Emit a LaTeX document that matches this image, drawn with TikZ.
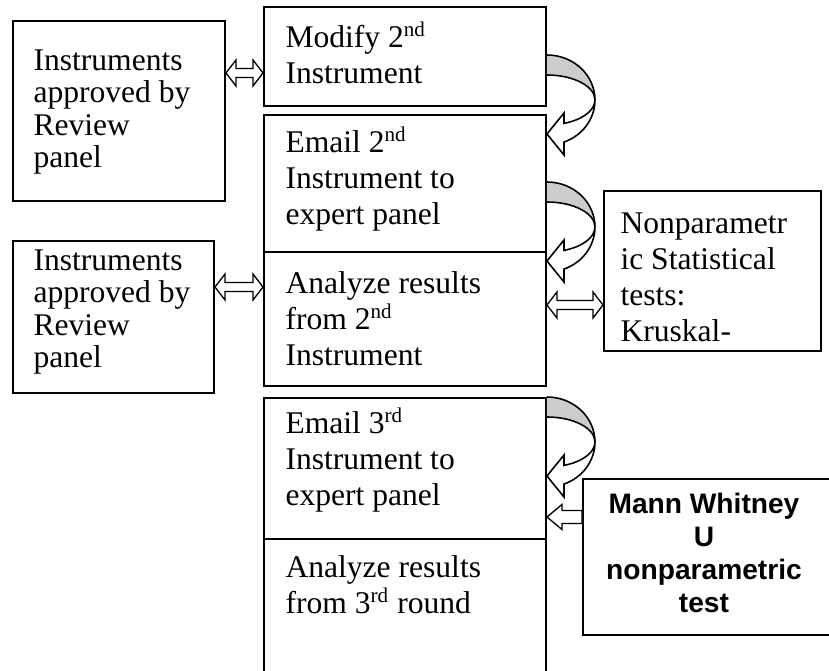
\documentclass[tikz,border=0pt]{standalone}
\usepackage{fontspec}
\setmainfont{Liberation Serif}
\newfontfamily\arialfont{Liberation Sans}
\usetikzlibrary{calc}
\newlength\px
\setlength\px{0.38pt}
\definecolor{bandgray}{gray}{0.8}
\newcommand{\topstrut}{\rule{0pt}{11pt}}
\newcommand{\dblarrow}[2]{%
  \draw[blk] (#1) -- ++(10,-13) -- ++(0,8.5) -- ($(#2)+(-10,-4.5)$) -- ++(0,-8.5)
    -- (#2) -- ++(-10,13) -- ++(0,-8.5) -- ($(#1)+(10,4.5)$) -- ++(0,8.5) -- cycle;}
\newcommand{\blkarrow}[2]{%
  \draw[blk] (#2) -- ++(15,-12.5) -- ++(0,6) -- ($(#1)+(0,-6.5)$) -- ++(0,13)
    -- ($(#2)+(15,6.5)$) -- ++(0,6) -- cycle;}

\begin{document}
\begin{tikzpicture}[x=0.38pt, y=-0.38pt,
    box/.style={draw, line width=0.75pt, rectangle, inner sep=0pt, anchor=north west},
    txt/.style={font=\fontsize{12}{13.7}\selectfont, align=left, inner sep=0pt,
        anchor=north west},
    tight txt/.style={txt, font=\fontsize{12}{12.3}\selectfont},
    bold txt/.style={font=\arialfont\bfseries\fontsize{10.7}{12.5}\selectfont,
        align=center, inner sep=0pt, anchor=north},
    blk/.style={draw, line width=0.5pt, fill=white, line join=miter},
    curvedback/.pic={
        \fill[bandgray] (0,0) .. controls (26.5,0) and (48,20.1) .. (48,45)
            .. controls (48,31.2) and (26.5,20) .. (0,20) -- cycle;
        \draw[line width=0.6pt] (0,0) .. controls (26.5,0) and (48,20.1) .. (48,45);
        \draw[line width=0.6pt] (0,20) .. controls (26.5,20) and (48,31.2) .. (48,45);
        \draw[blk, line width=0.6pt] (48,45) .. controls (48,55.4) and (35.7,64.7) .. (17,68.4)
            -- (17,58) -- (0,79) -- (17,100) -- (17,87.1)
            .. controls (35.7,80.5) and (48,63.7) .. (48,45) -- cycle;
    }]
    \useasboundingbox (0,0) rectangle (829,671);
    \clip (0,0) rectangle (829,671);

    % left column
    \node[box, minimum width=212\px, minimum height=180\px] (lb1) at (12,20) {};
    \node[box, minimum width=201\px, minimum height=152\px] (lb2) at (12,240) {};
    % middle column
    \node[box, minimum width=282\px, minimum height=99\px] (m1) at (263,6) {};
    \node[box, minimum width=282\px, minimum height=137\px] (m2) at (263,114) {};
    \node[box, minimum width=282\px, minimum height=134\px] (m3) at (263,251) {};
    \node[box, minimum width=282\px, minimum height=141\px] (m4) at (263,397) {};
    \node[box, minimum width=282\px, minimum height=150\px] (m5) at (263,538) {};
    % right column
    \node[box, minimum width=217\px, minimum height=160\px] (np) at (603,190) {};
    \node[box, minimum width=250\px, minimum height=156\px] (mw) at (582,478) {};

    \node[tight txt] (lb1t) at ([shift={(21,21)}]lb1.north west)
        {\topstrut Instruments\\approved by\\Review\\panel};
    \node[tight txt] (lb2t) at ([shift={(21,1)}]lb2.north west)
        {\topstrut Instruments\\approved by\\Review\\panel};
    \node[txt] (m1t) at ([shift={(22,12)}]m1.north west)
        {\topstrut Modify 2\textsuperscript{nd}\\Instrument};
    \node[txt] (m2t) at ([shift={(22,9)}]m2.north west)
        {\topstrut Email 2\textsuperscript{nd}\\Instrument to\\expert panel};
    \node[txt] (m3t) at ([shift={(22,13)}]m3.north west)
        {\topstrut Analyze results\\from 2\textsuperscript{nd}\\Instrument};
    \node[txt] (m4t) at ([shift={(22,7)}]m4.north west)
        {\topstrut Email 3\textsuperscript{rd}\\Instrument to\\expert panel};
    \node[txt] (m5t) at ([shift={(22,10)}]m5.north west)
        {\topstrut Analyze results\\from 3\textsuperscript{rd} round};
    \node[txt] (npt) at ([shift={(17,14)}]np.north west)
        {\topstrut Nonparametr\\ic Statistical\\tests:\\Kruskal-};
    \node[bold txt] (mwt) at ([shift={(122,9)}]mw.north west)
        {\rule{0pt}{10pt}Mann Whitney\\U\\nonparametric\\test};

    \coordinate (da1) at (0,73);
    \coordinate (da2) at (0,287);
    \coordinate (da3) at (0,305);
    \coordinate (la) at (0,517);
    \dblarrow{lb1.east |- da1}{m1.west |- da1}
    \dblarrow{lb2.east |- da2}{m3.west |- da2}
    \dblarrow{m3.east |- da3}{np.west |- da3}
    \blkarrow{mw.west |- la}{m4.east |- la}

    \coordinate (ca1) at (0,55);
    \coordinate (ca2) at (0,182);
    \coordinate (ca3) at (0,397);
    \pic at (m1.east |- ca1) {curvedback};
    \pic at (m2.east |- ca2) {curvedback};
    \pic at (m4.east |- ca3) {curvedback};
\end{tikzpicture}
\end{document}
